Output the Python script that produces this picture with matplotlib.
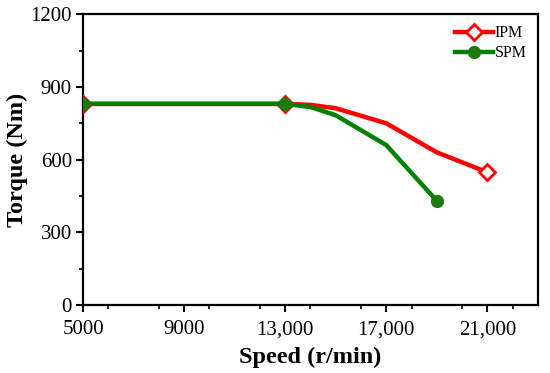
import matplotlib
matplotlib.use("Agg")
import matplotlib.pyplot as plt
from matplotlib.ticker import MultipleLocator

# 数据
speed_ipm = [5000, 13000, 14000, 15000, 17000, 19000, 21000]
torque_ipm = [830, 830, 826, 812, 750, 630, 548]
speed_spm = [5000, 13000, 14000, 15000, 17000, 19000]
torque_spm = [830, 830, 817, 783, 660, 430]

x_ticks = [5000, 9000, 13000, 17000, 21000]
x_tick_labels = ["5000", "9000", "13,000", "17,000", "21,000"]
y_ticks = [0, 300, 600, 900, 1200]

plt.rcParams["font.family"] = ["Liberation Serif", "DejaVu Serif"]

fig = plt.figure(figsize=(5.5, 3.73), dpi=100)
ax = fig.add_axes([0.151, 0.182, 0.827, 0.780])

ax.plot(speed_ipm, torque_ipm, color="#ff0000", linewidth=3.2, marker="D",
        markersize=8, markerfacecolor="white", markeredgecolor="#ff0000",
        markeredgewidth=2, markevery=[0, 1, len(speed_ipm) - 1], label="IPM",
        zorder=3)
ax.plot(speed_spm, torque_spm, color="#008000", linewidth=3.2, marker="o",
        markersize=8.5, markerfacecolor="#1e7a10", markeredgecolor="#1e7a10",
        markevery=[0, 1, len(speed_spm) - 1], label="SPM",
        zorder=4)

ax.set_xlim(5000, 23000)
ax.set_ylim(0, 1200)
ax.set_xticks(x_ticks)
ax.set_xticklabels(x_tick_labels)
ax.set_yticks(y_ticks)
ax.xaxis.set_minor_locator(MultipleLocator(2000))
ax.yaxis.set_minor_locator(MultipleLocator(150))

ax.tick_params(which="major", direction="out", length=5, width=1.5, labelsize=15)
ax.tick_params(axis="x", which="major", pad=6)
ax.tick_params(axis="y", which="major", pad=3)
ax.tick_params(which="minor", direction="out", length=3, width=1.2)
for s in ax.spines.values():
    s.set_linewidth(1.6)

ax.set_xlabel("Speed (r/min)", fontsize=17.5, fontweight="bold", labelpad=5)
ax.set_ylabel("Torque (Nm)", fontsize=17.5, fontweight="bold", labelpad=2)

ax.legend(loc="upper right", frameon=False, fontsize=11.5, handlelength=2.4,
          handletextpad=0.1, labelspacing=0.25, borderaxespad=0.3)

fig.savefig("out.png", dpi=100)
